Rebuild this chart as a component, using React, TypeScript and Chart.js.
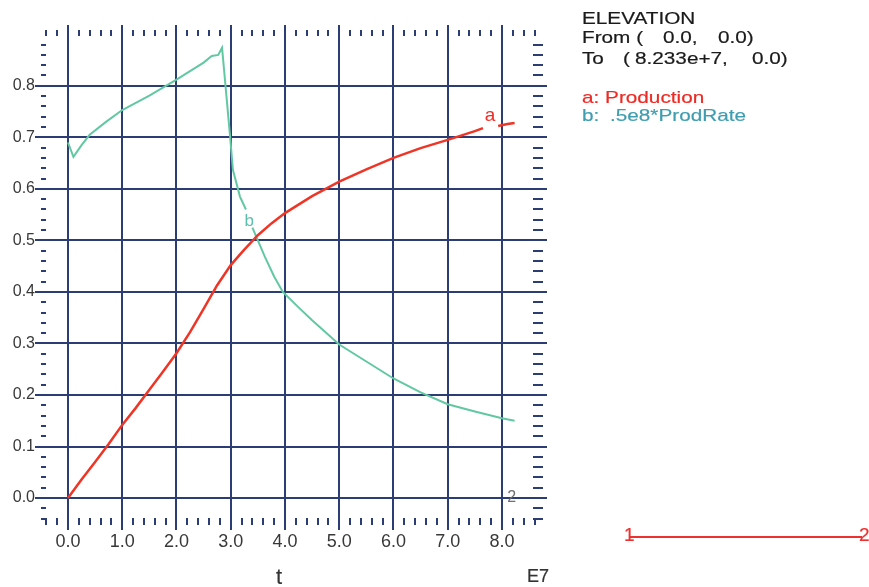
import React, { useEffect, useRef } from "react";
import { Chart, registerables } from "chart.js";

Chart.register(...registerables);

// ---- data ----
const T_PROD = [0, 0.25, 0.5, 0.75, 1.0, 1.25, 1.5, 1.75, 2.0, 2.25, 2.5, 2.75, 3.0, 3.25, 3.5, 3.75, 4.0, 4.5, 5.0, 5.5, 6.0, 6.5, 7.0, 7.5, 7.65, 7.8, 7.93, 8.1, 8.233];
const PROD = [0, 0.036, 0.07, 0.105, 0.142, 0.175, 0.21, 0.245, 0.281, 0.322, 0.367, 0.413, 0.452, 0.482, 0.51, 0.533, 0.553, 0.586, 0.614, 0.638, 0.66, 0.679, 0.695, 0.712, 0.718, null, 0.722, 0.726, 0.728];

const T_RATE = [0, 0.1, 0.25, 0.4, 0.7, 1.0, 1.5, 2.0, 2.5, 2.65, 2.77, 2.84, 2.99, 3.04, 3.17, 3.28, 3.33, 3.4, 3.48, 3.63, 3.8, 3.96, 4.25, 4.5, 5.0, 5.5, 6.0, 6.5, 7.0, 7.5, 8.0, 8.233];
const RATE = [0.69, 0.662, 0.685, 0.705, 0.73, 0.753, 0.781, 0.812, 0.845, 0.858, 0.86, 0.874, 0.7, 0.637, 0.585, 0.56, null, 0.525, 0.505, 0.468, 0.43, 0.4, 0.37, 0.345, 0.298, 0.265, 0.232, 0.205, 0.182, 0.168, 0.155, 0.15];

const X_TICKS = [0, 1, 2, 3, 4, 5, 6, 7, 8];
const Y_TICKS = [0, 0.1, 0.2, 0.3, 0.4, 0.5, 0.6, 0.7, 0.8];
const X_MIN = -0.608;
const X_MAX = 8.83;
const Y_MIN = -0.062;
const Y_MAX = 0.918;

// curve annotations: [text, x, y, colour, size]
const CURVE_LABELS: [string, number, number, string, number][] = [
  ["a", 7.78, 0.742, "#ee2e26", 19],
  ["b", 3.34, 0.538, "#5cbfae", 17],
  ["2", 8.18, 0.0, "#707070", 16],
];

const RED = "#ee3526";
const GREEN = "#62c8a2";
const GRID = "#2c3d74";
const FONT = "'Liberation Sans', Arial, sans-serif";

const decor = {
  id: "decor",
  beforeDatasetsDraw(chart: any) {
    const { ctx, chartArea: ca, scales } = chart;
    const x = scales.x;
    const y = scales.y;
    ctx.save();
    ctx.strokeStyle = GRID;
    ctx.lineWidth = 2;
    ctx.beginPath();
    for (let k = -2; k <= 43; k++) {
      if (k % 5 === 0) continue;
      const px = Math.round(x.getPixelForValue(k * 0.2));
      ctx.moveTo(px, ca.top + 5);
      ctx.lineTo(px, ca.top + 11);
      ctx.moveTo(px, ca.bottom - 12);
      ctx.lineTo(px, ca.bottom - 5);
    }
    for (let k = -2; k <= 44; k++) {
      if (k % 5 === 0) continue;
      const py = Math.round(y.getPixelForValue(k * 0.02));
      ctx.moveTo(ca.left + 6, py);
      ctx.lineTo(ca.left + 11, py);
      ctx.moveTo(ca.right - 14, py);
      ctx.lineTo(ca.right - 4, py);
    }
    ctx.stroke();
    ctx.restore();
  },
  afterDatasetsDraw(chart: any) {
    const { ctx, scales } = chart;
    ctx.save();
    ctx.textAlign = "center";
    ctx.textBaseline = "middle";
    for (const [t, vx, vy, c, s] of CURVE_LABELS) {
      ctx.font = `${s}px ${FONT}`;
      ctx.fillStyle = c;
      ctx.fillText(t, scales.x.getPixelForValue(vx), scales.y.getPixelForValue(vy));
    }
    ctx.restore();
  },
};

function Txt(props: { x: number; base: number; size: number; color: string; text: string; sx?: number }) {
  const { x, base, size, color, text, sx = 1 } = props;
  return (
    <div
      style={{
        position: "absolute",
        left: x,
        top: base - Math.round(size * 0.85),
        fontFamily: FONT,
        fontSize: size,
        lineHeight: `${size}px`,
        color,
        whiteSpace: "pre",
        transform: `scaleX(${sx})`,
        transformOrigin: "left top",
        WebkitTextStroke: `0.2px ${color}`,
      }}
    >
      {text}
    </div>
  );
}

export default function App() {
  const ref = useRef<HTMLCanvasElement>(null);

  useEffect(() => {
    const chart = new Chart(ref.current!, {
      type: "line",
      data: {
        datasets: [
          {
            label: "Production",
            data: T_PROD.map((t, i) => ({ x: t, y: PROD[i] })),
            borderColor: RED,
            borderWidth: 2.5,
            pointRadius: 0,
            tension: 0,
            spanGaps: false,
          },
          {
            label: ".5e8*ProdRate",
            data: T_RATE.map((t, i) => ({ x: t, y: RATE[i] })),
            borderColor: GREEN,
            borderWidth: 2,
            pointRadius: 0,
            tension: 0,
            spanGaps: false,
          },
        ],
      },
      options: {
        animation: false,
        responsive: false,
        devicePixelRatio: 1,
        layout: { padding: { top: 25, right: 322, bottom: 0, left: 0 } },
        plugins: { legend: { display: false }, tooltip: { enabled: false } },
        scales: {
          x: {
            type: "linear",
            min: X_MIN,
            max: X_MAX,
            afterBuildTicks: (s: any) => {
              s.ticks = X_TICKS.map((v) => ({ value: v }));
            },
            afterFit: (s: any) => {
              s.height = 57;
            },
            ticks: {
              callback: (v: any) => Number(v).toFixed(1),
              font: { family: FONT, size: 18 },
              color: "#383838",
              padding: 1,
              maxRotation: 0,
              autoSkip: false,
            },
            grid: { color: GRID, lineWidth: 2, drawTicks: false },
            border: { display: false },
          },
          y: {
            type: "linear",
            min: Y_MIN,
            max: Y_MAX,
            afterBuildTicks: (s: any) => {
              s.ticks = Y_TICKS.map((v) => ({ value: v }));
            },
            afterFit: (s: any) => {
              s.width = 35;
            },
            ticks: {
              callback: (v: any) => Number(v).toFixed(1),
              font: { family: FONT, size: 16 },
              color: "#383838",
              padding: 0,
              autoSkip: false,
            },
            grid: { color: GRID, lineWidth: 2, drawTicks: false },
            border: { display: false },
          },
        },
      },
      plugins: [decor],
    } as any);
    return () => chart.destroy();
  }, []);

  return (
    <div style={{ position: "absolute", left: 0, top: 0, width: 869, height: 587, background: "#fff", overflow: "hidden" }}>
      <canvas ref={ref} width={869} height={587} style={{ position: "absolute", left: 0, top: 0 }} />
      <Txt x={582} base={24} size={17} sx={1.22} color="#1a1a1a" text="ELEVATION" />
      <Txt x={582} base={43} size={17} sx={1.22} color="#1a1a1a" text="From (" />
      <Txt x={663} base={43} size={17} sx={1.22} color="#1a1a1a" text="0.0," />
      <Txt x={718} base={43} size={17} sx={1.22} color="#1a1a1a" text="0.0)" />
      <Txt x={582} base={64} size={17} sx={1.22} color="#1a1a1a" text="To" />
      <Txt x={623} base={64} size={17} sx={1.22} color="#1a1a1a" text="(" />
      <Txt x={635} base={64} size={17} sx={1.22} color="#1a1a1a" text="8.233e+7," />
      <Txt x={752} base={64} size={17} sx={1.22} color="#1a1a1a" text="0.0)" />
      <Txt x={582} base={103} size={17} sx={1.22} color="#ee2a24" text="a: Production" />
      <Txt x={582} base={121} size={17} sx={1.22} color="#3f9db0" text="b:" />
      <Txt x={610} base={121} size={17} sx={1.22} color="#3f9db0" text=".5e8*ProdRate" />
      <Txt x={276} base={585} size={22} color="#333" text="t" />
      <Txt x={527} base={582} size={18} color="#333" text="E7" />
      <div style={{ position: "absolute", left: 630, top: 536, width: 232, height: 2, background: "#ee3030" }} />
      <Txt x={624} base={541} size={19} color="#ee3030" text="1" />
      <Txt x={859} base={541} size={19} color="#ee3030" text="2" />
    </div>
  );
}
